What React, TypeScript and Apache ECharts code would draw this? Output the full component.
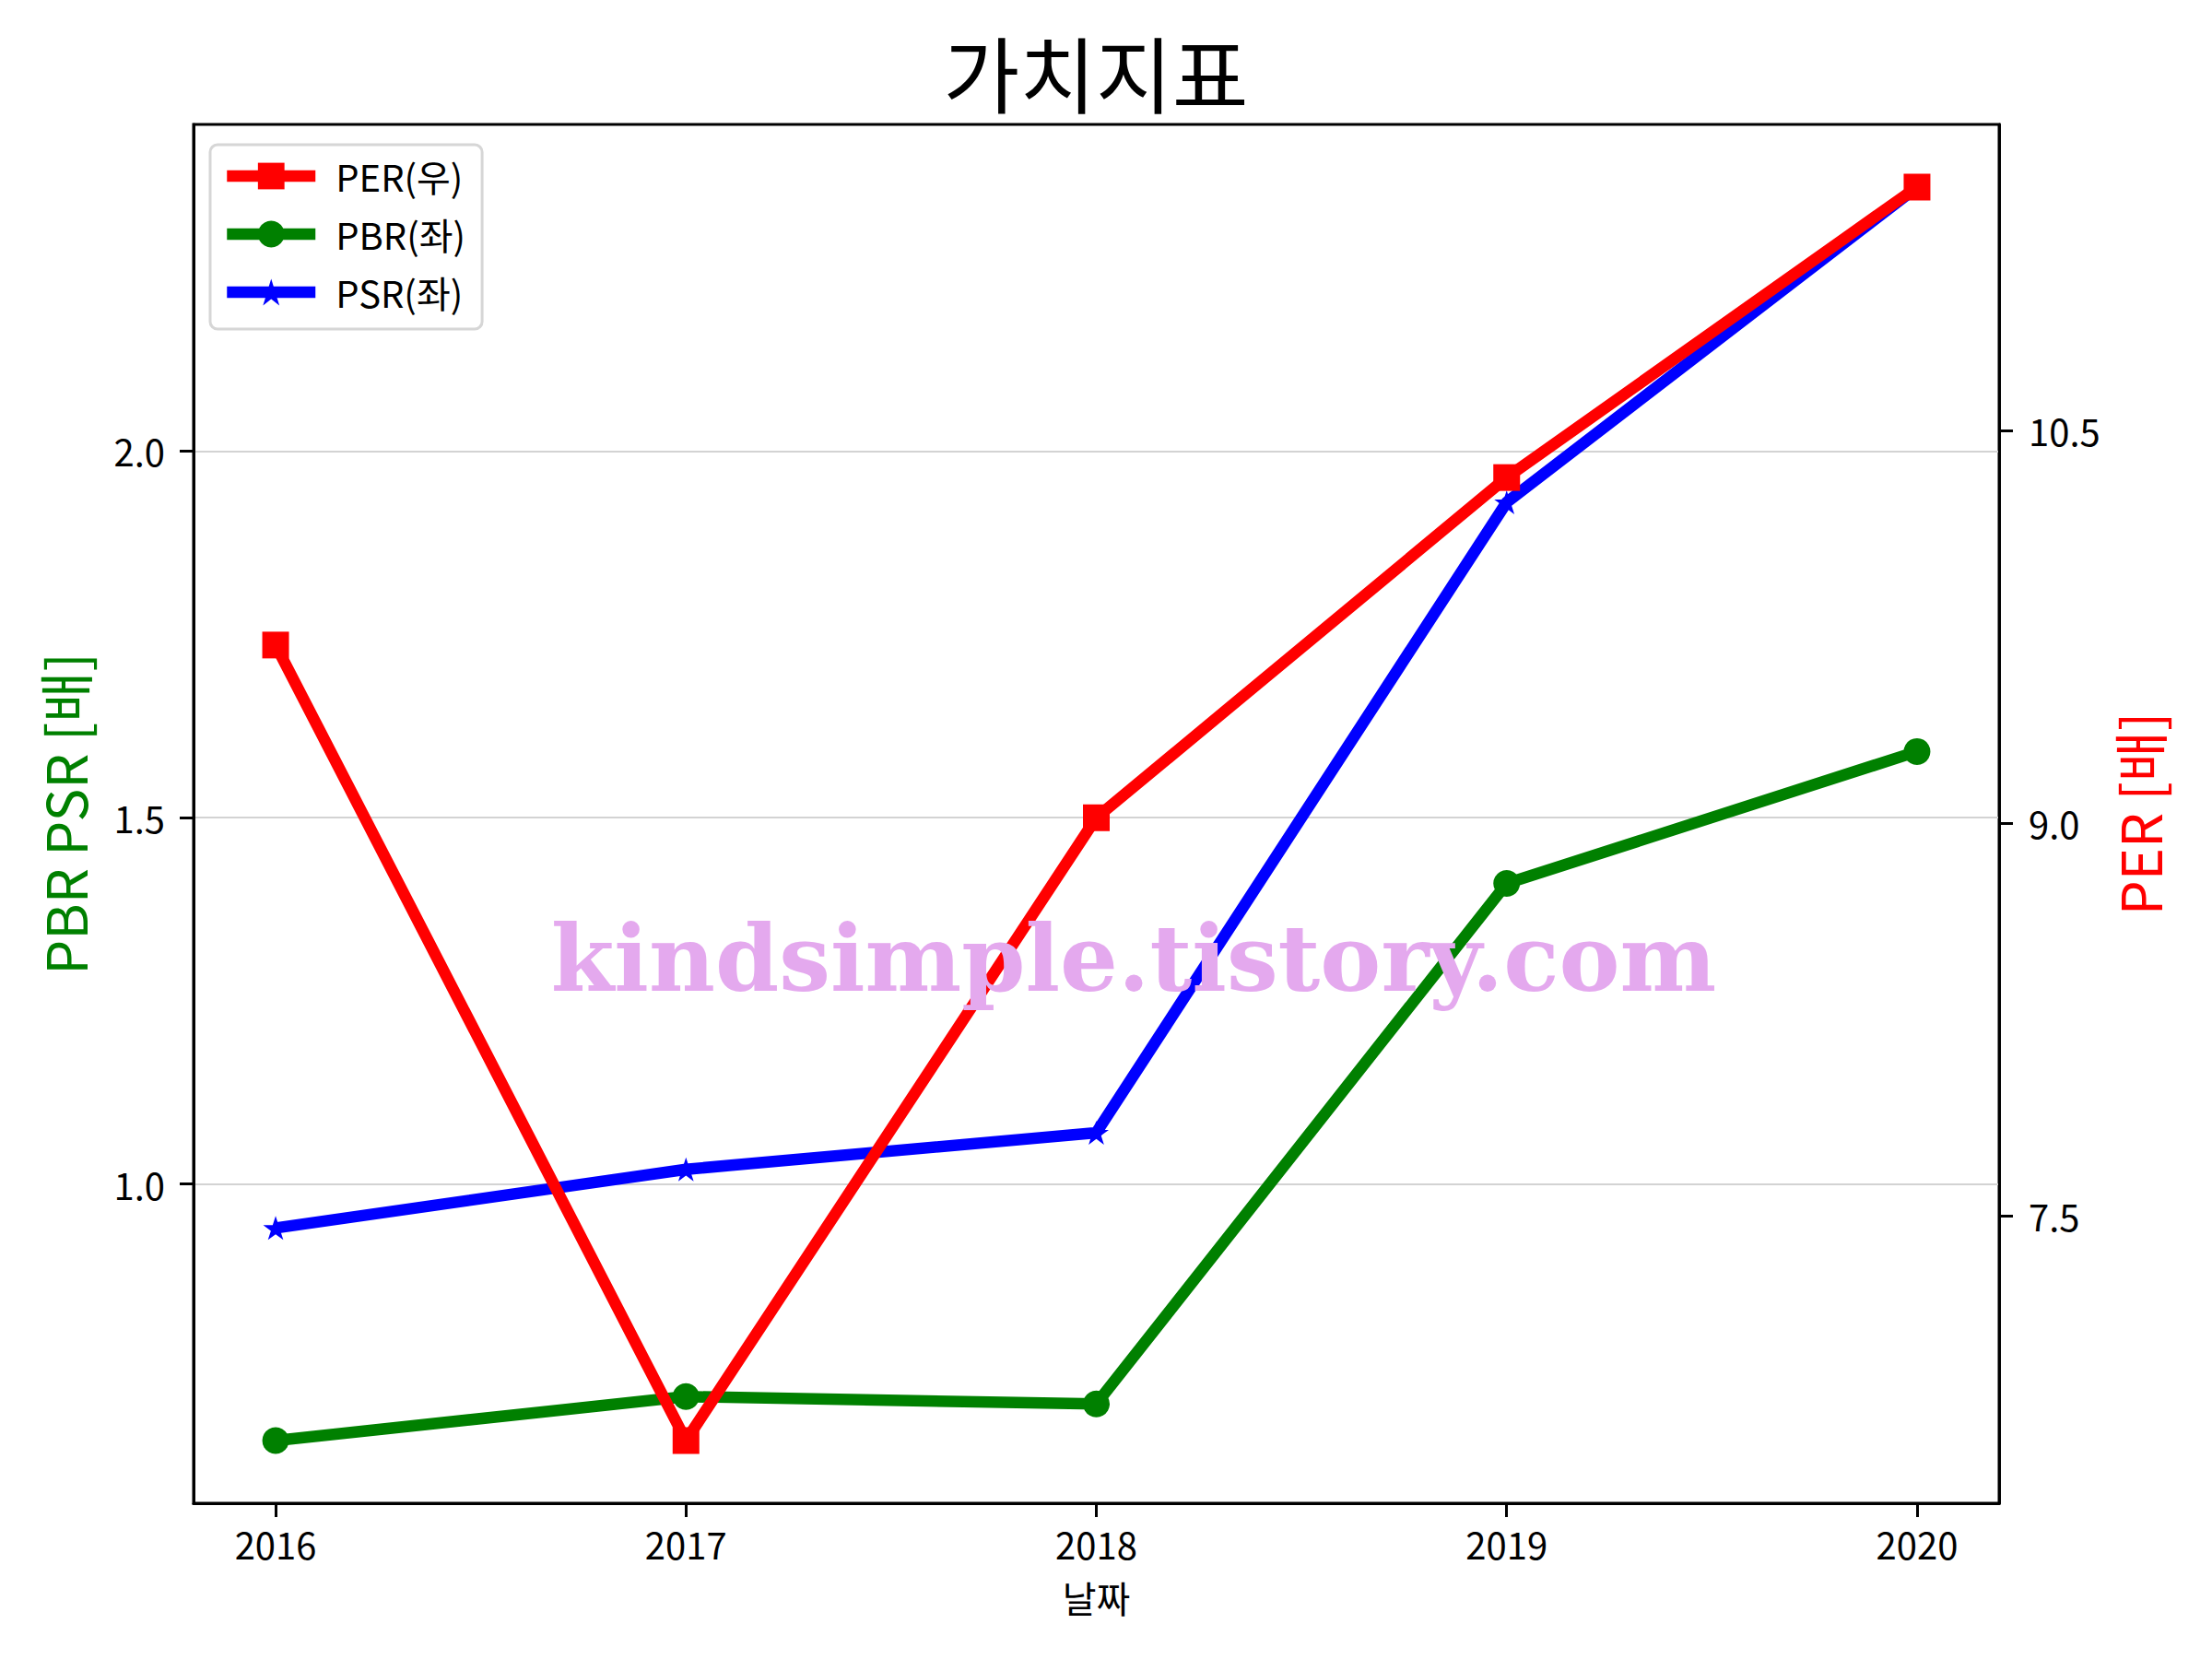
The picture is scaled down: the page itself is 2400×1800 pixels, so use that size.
import React, { useEffect, useRef } from "react";
import * as echarts from "echarts";

const years = [2016, 2017, 2018, 2019, 2020];
const perValues = [9.68, 6.64, 9.02, 10.32, 11.43];
const pbrValues = [0.65, 0.71, 0.7, 1.41, 1.59];
const psrValues = [0.94, 1.02, 1.07, 1.93, 2.36];
const leftTicks = [1.0, 1.5, 2.0];
const rightTicks = [7.5, 9.0, 10.5];
const legendNames = ["PER(우)", "PBR(좌)", "PSR(좌)"];

const FONT = "'Noto Sans CJK KR', 'Noto Sans', sans-serif";
const STAR =
  "path://M0,-1L0.2245,-0.309L0.9511,-0.309L0.3633,0.118L0.5878,0.809L0,0.382L-0.5878,0.809L-0.3633,0.118L-0.9511,-0.309L-0.2245,-0.309Z";

function padRange(vals: number[], m = 0.05): [number, number] {
  const mn = Math.min(...vals);
  const mx = Math.max(...vals);
  const r = mx - mn;
  return [mn - m * r, mx + m * r];
}

export default function App() {
  const ref = useRef<HTMLDivElement>(null);
  useEffect(() => {
    document.body.style.margin = "0";
    if (!ref.current) return;
    const chart = echarts.init(ref.current, undefined, { renderer: "svg" });
    const [xMin, xMax] = padRange(years);
    const [lMin, lMax] = padRange([...pbrValues, ...psrValues]);
    const [rMin, rMax] = padRange(perValues);
    const tickStyle = { show: true, inside: false, length: 15, lineStyle: { width: 3, color: "#000" } };
    const labelBase = { fontSize: 40, color: "#000", fontFamily: FONT };
    const option: any = {
      animation: false,
      backgroundColor: "#ffffff",
      title: {
        text: "가치지표",
        left: 1189,
        textAlign: "center",
        top: 32,
        padding: 0,
        textStyle: { fontSize: 90, fontWeight: "normal", color: "#000", fontFamily: FONT },
      },
      grid: {
        left: 210,
        top: 135,
        width: 1959,
        height: 1496,
        show: true,
        borderColor: "#000",
        borderWidth: 3,
        backgroundColor: "transparent",
        containLabel: false,
      },
      legend: {
        data: legendNames,
        orient: "vertical",
        left: 228,
        top: 157,
        itemWidth: 96,
        itemHeight: 36,
        itemGap: 23,
        padding: [14, 18, 20, 12],
        borderColor: "#d6d6d6",
        borderWidth: 3,
        borderRadius: 8,
        backgroundColor: "rgba(255,255,255,0.8)",
        lineStyle: { width: 12.5 },
        itemStyle: { borderWidth: 0 },
        textStyle: { ...labelBase, padding: [0, 0, 0, 17] },
      },
      xAxis: {
        type: "value",
        min: xMin,
        max: xMax,
        name: "날짜",
        nameLocation: "middle",
        nameGap: 82,
        nameTextStyle: { ...labelBase },
        axisLine: { show: true, lineStyle: { color: "#000", width: 3 } },
        axisTick: { ...tickStyle, customValues: years },
        axisLabel: { ...labelBase, margin: 24, customValues: years, formatter: (v: number) => String(v) },
        splitLine: { show: false },
      },
      yAxis: [
        {
          type: "value",
          position: "left",
          min: lMin,
          max: lMax,
          name: "PBR PSR [배]",
          nameLocation: "middle",
          nameRotate: 90,
          nameGap: 112,
          nameTextStyle: { fontSize: 60, color: "#008000", fontFamily: FONT },
          axisLine: { show: true, lineStyle: { color: "#000", width: 3 } },
          axisTick: { ...tickStyle, customValues: leftTicks },
          axisLabel: { ...labelBase, margin: 31, customValues: leftTicks, formatter: (v: number) => v.toFixed(1) },
          splitLine: { show: true, lineStyle: { color: "#d3d3d3", width: 2 } },
        },
        {
          type: "value",
          position: "right",
          min: rMin,
          max: rMax,
          name: "PER [배]",
          nameLocation: "middle",
          nameRotate: 90,
          nameGap: 120,
          nameTextStyle: { fontSize: 60, color: "#ff0000", fontFamily: FONT },
          axisLine: { show: true, lineStyle: { color: "#000", width: 3 } },
          axisTick: { ...tickStyle, customValues: rightTicks },
          axisLabel: { ...labelBase, margin: 32, customValues: rightTicks, formatter: (v: number) => v.toFixed(1) },
          splitLine: { show: false },
        },
      ],
      series: [
        {
          name: "PBR(좌)",
          type: "line",
          yAxisIndex: 0,
          data: years.map((y, i) => [y, pbrValues[i]]),
          symbol: "circle",
          symbolSize: 29,
          lineStyle: { width: 12.5, color: "#008000", join: "round" },
          itemStyle: { color: "#008000", borderWidth: 0 },
          z: 2,
        },
        {
          name: "PSR(좌)",
          type: "line",
          yAxisIndex: 0,
          data: years.map((y, i) => [y, psrValues[i]]),
          symbol: STAR,
          symbolSize: [27, 26],
          lineStyle: { width: 12.5, color: "#0000ff", join: "round" },
          itemStyle: { color: "#0000ff", borderWidth: 0 },
          z: 3,
        },
        {
          name: "PER(우)",
          type: "line",
          yAxisIndex: 1,
          data: years.map((y, i) => [y, perValues[i]]),
          symbol: "rect",
          symbolSize: 29,
          lineStyle: { width: 12.5, color: "#ff0000", join: "round" },
          itemStyle: { color: "#ff0000", borderWidth: 0 },
          z: 4,
        },
      ],
      graphic: [
        {
          type: "text",
          x: 1230,
          y: 1040,
          z: 100,
          silent: true,
          style: {
            text: "kindsimple.tistory.com",
            fill: "#E4A9EE",
            fontSize: 99,
            fontWeight: "bold",
            fontFamily: "'DejaVu Serif', serif",
            align: "center",
            verticalAlign: "middle",
          },
        },
      ],
    };
    chart.setOption(option);
    return () => chart.dispose();
  }, []);
  return <div ref={ref} style={{ width: 2400, height: 1800 }} />;
}
